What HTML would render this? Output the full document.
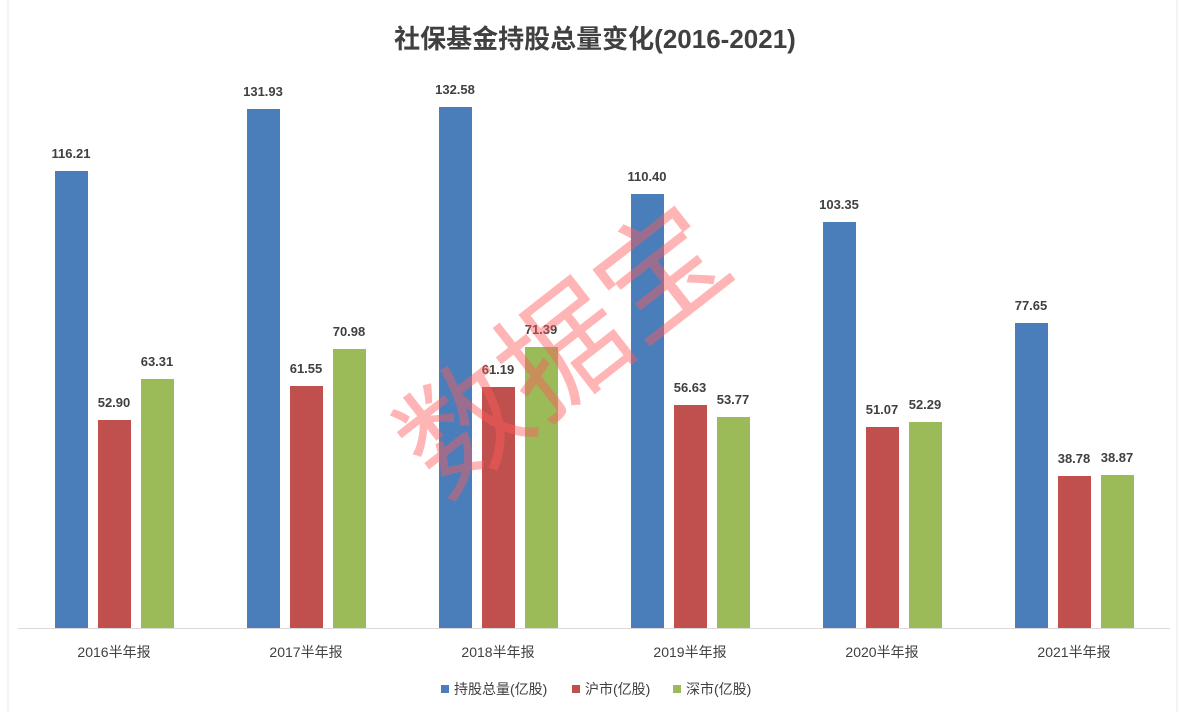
<!DOCTYPE html>
<html><head><meta charset="utf-8"><style>body{margin:0;background:#fff}</style></head>
<body>
<svg width="1186" height="712" xmlns="http://www.w3.org/2000/svg" font-family="'Liberation Sans','Noto Sans CJK SC',sans-serif">
<rect width="1186" height="712" fill="#fff"/>
<line x1="8" y1="0" x2="8" y2="712" stroke="#e8e8e8"/>
<line x1="1177" y1="0" x2="1177" y2="712" stroke="#e8e8e8"/>
<text x="595" y="48" text-anchor="middle" font-size="26" font-weight="bold" fill="#404040">社保基金持股总量变化(2016-2021)</text>
<line x1="18" y1="628.5" x2="1170" y2="628.5" stroke="#d9d9d9"/>
<g font-size="13" font-weight="bold" fill="#404040" text-anchor="middle">
<rect x="55" y="171" width="33" height="457" fill="#4a7ebb"/><text x="71" y="158">116.21</text>
<rect x="98" y="420" width="33" height="208" fill="#c0504d"/><text x="114" y="407">52.90</text>
<rect x="141" y="379" width="33" height="249" fill="#9bbb59"/><text x="157" y="366">63.31</text>
<rect x="247" y="109" width="33" height="519" fill="#4a7ebb"/><text x="263" y="96">131.93</text>
<rect x="290" y="386" width="33" height="242" fill="#c0504d"/><text x="306" y="373">61.55</text>
<rect x="333" y="349" width="33" height="279" fill="#9bbb59"/><text x="349" y="336">70.98</text>
<rect x="439" y="107" width="33" height="521" fill="#4a7ebb"/><text x="455" y="94">132.58</text>
<rect x="482" y="387" width="33" height="241" fill="#c0504d"/><text x="498" y="374">61.19</text>
<rect x="525" y="347" width="33" height="281" fill="#9bbb59"/><text x="541" y="334">71.39</text>
<rect x="631" y="194" width="33" height="434" fill="#4a7ebb"/><text x="647" y="181">110.40</text>
<rect x="674" y="405" width="33" height="223" fill="#c0504d"/><text x="690" y="392">56.63</text>
<rect x="717" y="417" width="33" height="211" fill="#9bbb59"/><text x="733" y="404">53.77</text>
<rect x="823" y="222" width="33" height="406" fill="#4a7ebb"/><text x="839" y="209">103.35</text>
<rect x="866" y="427" width="33" height="201" fill="#c0504d"/><text x="882" y="414">51.07</text>
<rect x="909" y="422" width="33" height="206" fill="#9bbb59"/><text x="925" y="409">52.29</text>
<rect x="1015" y="323" width="33" height="305" fill="#4a7ebb"/><text x="1031" y="310">77.65</text>
<rect x="1058" y="476" width="33" height="152" fill="#c0504d"/><text x="1074" y="463">38.78</text>
<rect x="1101" y="475" width="33" height="153" fill="#9bbb59"/><text x="1117" y="462">38.87</text>
</g>
<g font-size="14" fill="#404040" text-anchor="middle">
<text x="114" y="657">2016半年报</text>
<text x="306" y="657">2017半年报</text>
<text x="498" y="657">2018半年报</text>
<text x="690" y="657">2019半年报</text>
<text x="882" y="657">2020半年报</text>
<text x="1074" y="657">2021半年报</text>
</g>
<g font-size="14" fill="#404040">
<rect x="441" y="685" width="8" height="8" fill="#4a7ebb"/><text x="454" y="694">持股总量(亿股)</text>
<rect x="572" y="685" width="8" height="8" fill="#c0504d"/><text x="585" y="694">沪市(亿股)</text>
<rect x="673" y="685" width="8" height="8" fill="#9bbb59"/><text x="686" y="694">深市(亿股)</text>
</g>
<text x="0" y="0" transform="translate(590,385) rotate(-38)" text-anchor="middle" font-size="125" fill="rgba(255,90,90,0.45)" font-family="'Noto Sans CJK SC',sans-serif">数据宝</text>
</svg>
</body></html>
